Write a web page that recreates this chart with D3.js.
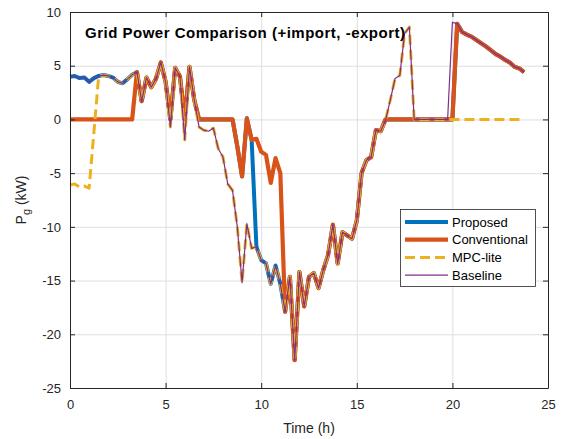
<!DOCTYPE html>
<html>
<head>
<meta charset="utf-8">
<script src="https://cdn.jsdelivr.net/npm/d3@7"></script>
<style>
  html, body { margin: 0; padding: 0; background: #fff; }
  svg { display: block; font-family: "Liberation Sans", Arial, Helvetica, sans-serif; }
</style>
</head>
<body>
<div id="chart"></div>
<script>
// Sampling grid: 15-minute steps over one day (0 .. 23.75 h)
const STEP_H = 0.25;
const N_STEPS = 96;

// Baseline grid power (kW)
const baseline = [
  3.98, 4.04, 3.85, 3.9, 3.5, 3.85, 4.05, 4.13, 4.05, 3.9, 3.5, 3.36, 3.75, 4.15,
  4.4, 1.7, 3.9, 3.0, 3.8, 5.3, 3.5, -0.7, 4.8, 4.0, -1.9, 4.9, 1.8, -0.7,
  -1.0, -1.1, -0.8, -2.7, -3.5, -6.0, -6.6, -10.0, -15.2, -9.7, -12.0, -11.85,
  -13.1, -13.4, -15.3, -13.6, -15.3, -17.9, -14.65, -22.4, -14.2, -17.4, -14.65,
  -14.3, -15.7, -14.0, -12.6, -9.8, -13.4, -10.5, -10.8, -11.1, -9.4, -5.0,
  -3.8, -3.5, -1.0, -1.1, -0.1, 1.8, 3.8, 4.1, 8.0, 8.6, 0, 0, 0, 0, 0, 0, 0, 0,
  9.05, 8.9, 8.15, 7.9, 7.7, 7.4, 7.1, 6.8, 6.45, 6.1, 5.85, 5.55, 5.3, 4.9, 4.75, 4.4
];

// Conventional controller
const conventional = [
  0, 0, 0, 0, 0, 0, 0, 0, 0, 0, 0, 0, 0, 0,
  4.4, 1.7, 3.9, 3.0, 3.8, 5.3, 3.5, 0, 4.8, 4.0, 0, 4.9, 1.8, 0,
  0, 0, 0, 0, 0, 0, 0, -2.5, -5.3, 0.1, -1.9, -1.8,
  -3.0, -3.3, -5.9, -3.6, -5.0, -17.9, -14.65, -22.4, -14.2, -17.4, -14.65,
  -14.3, -15.7, -14.0, -12.6, -9.8, -13.4, -10.5, -10.8, -11.1, -9.4, -5.0,
  -3.8, -3.5, -1.0, -1.1, 0, 0, 0, 0, 0, 0, 0, 0, 0, 0, 0, 0, 0, 0,
  0, 8.9, 8.15, 7.9, 7.7, 7.4, 7.1, 6.8, 6.45, 6.1, 5.85, 5.55, 5.3, 4.9, 4.75, 4.4
];

// Proposed controller
const proposed = [
  3.98, 4.04, 3.85, 3.9, 3.5, 3.85, 4.05, 4.13, 4.05, 3.9, 3.5, 3.36, 3.75, 4.15,
  4.4, 1.7, 3.9, 3.0, 3.8, 5.3, 3.5, 0, 4.8, 4.0, 0, 4.9, 1.8, 0,
  0, 0, 0, 0, 0, 0, 0, -2.5, -5.3, 0.1, -1.9, -11.85,
  -13.1, -13.4, -15.3, -13.6, -15.3, -17.9, -14.65, -22.4, -14.2, -17.4, -14.65,
  -14.3, -15.7, -14.0, -12.6, -9.8, -13.4, -10.5, -10.8, -11.1, -9.4, -5.0,
  -3.8, -3.5, -1.0, -1.1, 0, 0, 0, 0, 0, 0, 0, 0, 0, 0, 0, 0, 0, 0,
  0, 8.9, 8.15, 7.9, 7.7, 7.4, 7.1, 6.8, 6.45, 6.1, 5.85, 5.55, 5.3, 4.9, 4.75, 4.4
];

// MPC-lite controller
const mpcLite = [
  -6.1, -6.0, -6.3, -6.2, -6.4, -1.2, 4.05, 4.13, 4.05, 3.9, 3.5, 3.36, 3.75, 4.15,
  4.4, 1.7, 3.9, 3.0, 3.8, 5.3, 3.5, -0.7, 4.8, 4.0, -1.9, 4.9, 1.8, -0.7,
  -1.0, -1.1, -0.8, -2.7, -3.5, -6.0, -6.6, -10.0, -15.2, -9.7, -12.0, -11.85,
  -13.1, -13.4, -15.3, -13.6, -15.3, -17.9, -14.65, -22.4, -14.2, -17.4, -14.65,
  -14.3, -15.7, -14.0, -12.6, -9.8, -13.4, -10.5, -10.8, -11.1, -9.4, -5.0,
  -3.8, -3.5, -1.0, -1.1, -0.1, 1.8, 3.8, 4.1, 8.0, 8.6, 0, 0, 0, 0, 0, 0, 0, 0,
  0, 0, 0, 0, 0, 0, 0, 0, 0, 0, 0, 0, 0, 0, 0, 0
];

const seriesNames = ["Proposed", "Conventional", "MPC-lite", "Baseline"];
const xTicks = [0, 5, 10, 15, 20, 25];
const yTicks = [-25, -20, -15, -10, -5, 0, 5, 10];

const width = 564;
const height = 439;
const margin = { top: 12, right: 16, bottom: 51, left: 70 };

const times = d3.range(N_STEPS).map(i => i * STEP_H);

const styles = [
  { color: "#0072BD", width: 4, dash: null },
  { color: "#D95319", width: 4.2, dash: null },
  { color: "#EDB120", width: 3, dash: "10,5" },
  { color: "#7E2F8E", width: 1.2, dash: null }
];
const allSeries = [proposed, conventional, mpcLite, baseline];

const x = d3.scaleLinear().domain([0, 25]).range([margin.left, width - margin.right]);
const y = d3.scaleLinear().domain([-25, 10]).range([height - margin.bottom, margin.top]);

const svg = d3.select("#chart").append("svg")
  .attr("width", width)
  .attr("height", height);

svg.append("rect").attr("width", width).attr("height", height).attr("fill", "#fff");

// grid
const grid = svg.append("g").attr("stroke", "#dfdfdf").attr("stroke-width", 1);
grid.selectAll(".gx").data(xTicks.slice(1, -1)).join("line")
  .attr("x1", d => x(d) + 0.5).attr("x2", d => x(d) + 0.5)
  .attr("y1", y(-25)).attr("y2", y(10));
grid.selectAll(".gy").data(yTicks.slice(1, -1)).join("line")
  .attr("y1", d => y(d) + 0.5).attr("y2", d => y(d) + 0.5)
  .attr("x1", x(0)).attr("x2", x(25));

// lines, drawn in plot order
const line = d3.line()
  .x((d, i) => x(times[i]))
  .y(d => y(d));

svg.append("g")
  .selectAll("path")
  .data(allSeries)
  .join("path")
  .attr("fill", "none")
  .attr("stroke", (d, i) => styles[i].color)
  .attr("stroke-width", (d, i) => styles[i].width)
  .attr("stroke-dasharray", (d, i) => styles[i].dash)
  .attr("stroke-linejoin", "round")
  .attr("d", line);

// axes (MATLAB style box, inward ticks); plain hyphen for negatives
const axisColor = "#262626";
const fmt = d => String(d);
const xAxis = d3.axisBottom(x).tickValues(xTicks).tickFormat(fmt).tickSizeInner(-5).tickSizeOuter(0).tickPadding(12);
const yAxis = d3.axisLeft(y).tickValues(yTicks).tickFormat(fmt).tickSizeInner(-5).tickSizeOuter(0).tickPadding(9);

svg.append("g").attr("transform", `translate(0,${y(-25)})`).call(xAxis);
svg.append("g").attr("transform", `translate(${x(0)},0)`).call(yAxis);
svg.append("g").attr("transform", `translate(0,${y(10)})`)
  .call(d3.axisTop(x).tickValues(xTicks).tickSizeInner(-5).tickSizeOuter(0).tickFormat(""));
svg.append("g").attr("transform", `translate(${x(25)},0)`)
  .call(d3.axisRight(y).tickValues(yTicks).tickSizeInner(-5).tickSizeOuter(0).tickFormat(""));

svg.selectAll(".domain").attr("stroke", axisColor);
svg.selectAll(".tick line").attr("stroke", axisColor);
svg.selectAll(".tick text")
  .attr("fill", axisColor)
  .attr("font-size", 13)
  .attr("font-family", "Liberation Sans, Arial, sans-serif");

// axis labels
svg.append("text")
  .attr("x", (x(0) + x(25)) / 2)
  .attr("y", 433)
  .attr("text-anchor", "middle")
  .attr("fill", axisColor)
  .attr("font-size", 14)
  .text("Time (h)");

const yl = svg.append("text")
  .attr("transform", `translate(26,${(y(-25) + y(10)) / 2}) rotate(-90)`)
  .attr("text-anchor", "middle")
  .attr("fill", axisColor)
  .attr("font-size", 14);
yl.append("tspan").text("P");
yl.append("tspan").attr("dy", 4).attr("font-size", 11).text("g");
yl.append("tspan").attr("dy", -4).text(" (kW)");

// title inside the axes
svg.append("text")
  .attr("x", 85)
  .attr("y", 38)
  .attr("font-weight", "bold")
  .attr("font-size", 15)
  .attr("textLength", 320)
  .attr("lengthAdjust", "spacing")
  .attr("fill", "#000")
  .text("Grid Power Comparison (+import, -export)");

// legend
const lg = svg.append("g").attr("transform", "translate(400,209)");
lg.append("rect")
  .attr("x", 0.5).attr("y", 0.5)
  .attr("width", 135).attr("height", 77)
  .attr("fill", "#fff")
  .attr("stroke", "#262626")
  .attr("stroke-width", 0.8);
const items = lg.selectAll("g.item")
  .data(seriesNames)
  .join("g")
  .attr("transform", (d, i) => `translate(0,${13 + i * 17.7})`);
items.append("line")
  .attr("x1", 5).attr("x2", 48)
  .attr("stroke", (d, i) => styles[i].color)
  .attr("stroke-width", (d, i) => styles[i].width)
  .attr("stroke-dasharray", (d, i) => styles[i].dash);
items.append("text")
  .attr("x", 52).attr("y", 0)
  .attr("dy", "0.35em")
  .attr("font-size", 13)
  .attr("fill", "#000")
  .text(d => d);
</script>
</body>
</html>
